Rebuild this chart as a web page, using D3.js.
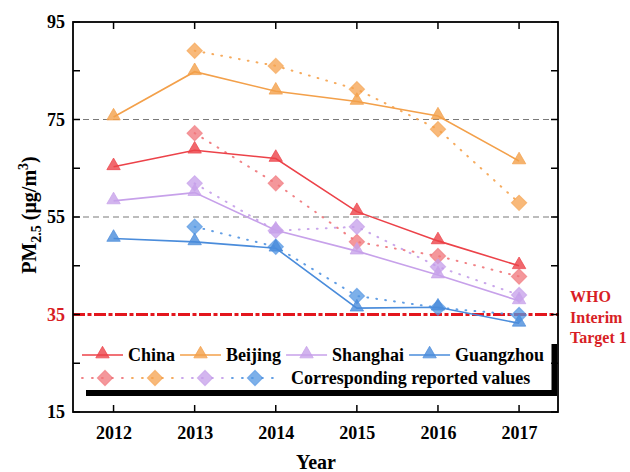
<!DOCTYPE html>
<html>
<head>
<meta charset="utf-8">
<script src="https://cdn.jsdelivr.net/npm/d3@7"></script>
<style>
  html, body { margin: 0; padding: 0; background: #fff; }
  svg { display: block; }
</style>
</head>
<body>
<svg id="chart" width="630" height="472"></svg>
<script>
// Annual mean PM2.5 (µg/m³): estimated values vs. reported values
const years = [2012, 2013, 2014, 2015, 2016, 2017];
const reportedYears = [2013, 2014, 2015, 2016, 2017];

const chinaEst     = [65.3, 68.7, 67.0, 56.1, 50.1, 45.0];
const beijingEst   = [75.5, 84.8, 80.8, 78.7, 75.7, 66.5];
const shanghaiEst  = [58.3, 60.0, 52.3, 48.0, 43.1, 37.8];
const guangzhouEst = [50.6, 49.9, 48.6, 36.3, 36.5, 33.2];

const chinaRep     = [72.2, 61.9, 49.9, 47.0, 42.8];
const beijingRep   = [89.1, 86.0, 81.2, 73.0, 57.9];
const shanghaiRep  = [61.9, 52.2, 53.0, 44.8, 39.0];
const guangzhouRep = [53.0, 48.9, 38.8, 36.4, 34.9];

const yTicks = [15, 35, 55, 75, 95];
const yMinorTicks = [25, 45, 65, 85];
const guideLevels = [55, 75];
const whoTarget = 35;
const whoLabel = ["WHO", "Interim", "Target 1"];
const reportedLabel = "Corresponding reported values";

const seriesNames = ["China", "Beijing", "Shanghai", "Guangzhou"];
const lineColors = ["#ec4249", "#f3a04a", "#c7a1ea", "#4a8cdb"];
const repColors  = ["#f07479", "#f5a24d", "#c49de9", "#5295e2"];
const estimated = [chinaEst, beijingEst, shanghaiEst, guangzhouEst];
const reported  = [chinaRep, beijingRep, shanghaiRep, guangzhouRep];

const FONT = "Liberation Serif";
const svg = d3.select("#chart").attr("font-family", FONT);
const pLeft = 73, pRight = 558, pTop = 22, pBottom = 412;

const x = d3.scaleLinear().domain([2011.5, 2017.48]).range([pLeft, pRight]);
const y = d3.scaleLinear().domain([15, 95]).range([pBottom, pTop]);

// Horizontal guide lines
svg.selectAll("line.guide").data(guideLevels).join("line")
  .attr("class", "guide")
  .attr("x1", pLeft).attr("x2", pRight)
  .attr("y1", d => y(d)).attr("y2", d => y(d))
  .attr("stroke", "#7a7a7a").attr("stroke-width", 1.2)
  .attr("stroke-dasharray", "6,4");

// WHO interim target line
svg.append("line")
  .attr("x1", pLeft).attr("x2", pRight + 1)
  .attr("y1", y(whoTarget)).attr("y2", y(whoTarget))
  .attr("stroke", "#e3161d").attr("stroke-width", 3)
  .attr("stroke-dasharray", "12,2.5,4,2.5");

const tri = d3.symbol().type(d3.symbolTriangle).size(78);
const dia = d3.symbol().type(d3.symbolSquare).size(120);

const line = d3.line().x(d => x(d[0])).y(d => y(d[1]));

// Reported values: dotted lines + diamonds
reported.forEach((vals, i) => {
  const pts = reportedYears.map((yr, j) => [yr, vals[j]]);
  svg.append("path").datum(pts)
    .attr("d", line).attr("fill", "none")
    .attr("stroke", repColors[i]).attr("stroke-width", 2)
    .attr("stroke-linecap", "round")
    .attr("stroke-dasharray", "0.8,8.2").attr("opacity", 0.9);
});
reported.forEach((vals, i) => {
  const pts = reportedYears.map((yr, j) => [yr, vals[j]]);
  svg.append("g").selectAll("path").data(pts).join("path")
    .attr("d", dia)
    .attr("transform", d => `translate(${x(d[0])},${y(d[1])}) rotate(45)`)
    .attr("fill", repColors[i]).attr("fill-opacity", 0.75)
    .attr("stroke", repColors[i]).attr("stroke-opacity", 0.6).attr("stroke-width", 1);
});

// Estimated values: solid lines + triangles
estimated.forEach((vals, i) => {
  const pts = years.map((yr, j) => [yr, vals[j]]);
  svg.append("path").datum(pts)
    .attr("d", line).attr("fill", "none")
    .attr("stroke", lineColors[i]).attr("stroke-width", 1.6);
  svg.append("g").selectAll("path").data(pts).join("path")
    .attr("d", tri)
    .attr("transform", d => `translate(${x(d[0])},${y(d[1]) - 1})`)
    .attr("fill", lineColors[i]).attr("fill-opacity", 0.8)
    .attr("stroke", lineColors[i]).attr("stroke-opacity", 0.7).attr("stroke-width", 1);
});

// Legend with drop shadow
const lg = svg.append("g");
lg.append("rect").attr("x", 86).attr("y", 344).attr("width", 471).attr("height", 52).attr("fill", "#000");
lg.append("rect").attr("x", 80).attr("y", 338).attr("width", 472).attr("height", 52).attr("fill", "#fff");
lg.append("line").attr("x1", 552).attr("x2", 552).attr("y1", 344).attr("y2", 390)
  .attr("stroke", "#000").attr("stroke-width", 1);

let cx = 82;
const row1 = 355, row2 = 378;
seriesNames.forEach((name, i) => {
  lg.append("line").attr("x1", cx).attr("x2", cx + 41).attr("y1", row1).attr("y2", row1)
    .attr("stroke", lineColors[i]).attr("stroke-width", 1.6);
  lg.append("path").attr("d", tri)
    .attr("transform", `translate(${cx + 20.5},${row1 - 1})`)
    .attr("fill", lineColors[i]).attr("fill-opacity", 0.8)
    .attr("stroke", lineColors[i]).attr("stroke-opacity", 0.7);
  const t = lg.append("text").attr("x", cx + 46).attr("y", row1 + 6)
    .attr("font-family", FONT)
    .attr("font-size", 18).attr("font-weight", "bold").attr("fill", "#000").text(name);
  cx += 46 + t.node().getComputedTextLength() + 5;
});
reported.forEach((vals, i) => {
  const c = 105 + i * 50;
  lg.append("line").attr("x1", c - 23).attr("x2", c + 19).attr("y1", row2).attr("y2", row2)
    .attr("stroke", repColors[i]).attr("stroke-width", 2).attr("stroke-linecap", "round")
    .attr("stroke-dasharray", "0.8,9.2").attr("opacity", 0.9);
  lg.append("path").attr("d", dia)
    .attr("transform", `translate(${c},${row2}) rotate(45)`)
    .attr("fill", repColors[i]).attr("fill-opacity", 0.75)
    .attr("stroke", repColors[i]).attr("stroke-opacity", 0.6);
});
lg.append("text").attr("x", 291).attr("y", row2 + 6).attr("font-family", FONT)
  .attr("font-size", 18).attr("font-weight", "bold").text(reportedLabel);

// Axes frame with inward ticks on all sides
svg.append("rect").attr("x", pLeft).attr("y", pTop)
  .attr("width", pRight - pLeft).attr("height", pBottom - pTop)
  .attr("fill", "none").attr("stroke", "#000").attr("stroke-width", 1.8);

const tickLen = 7;
const yAll = yTicks.concat(yMinorTicks);
const frame = svg.append("g").attr("stroke", "#000").attr("stroke-width", 1.5);
years.forEach(yr => {
  frame.append("line").attr("x1", x(yr)).attr("x2", x(yr)).attr("y1", pBottom).attr("y2", pBottom - tickLen);
  frame.append("line").attr("x1", x(yr)).attr("x2", x(yr)).attr("y1", pTop).attr("y2", pTop + tickLen);
});
yAll.forEach(v => {
  frame.append("line").attr("x1", pLeft).attr("x2", pLeft + tickLen).attr("y1", y(v)).attr("y2", y(v));
  frame.append("line").attr("x1", pRight).attr("x2", pRight - tickLen).attr("y1", y(v)).attr("y2", y(v));
});

// Tick labels
const xAxis = d3.axisBottom(x).tickValues(years).tickFormat(d3.format("d")).tickSize(0).tickPadding(14);
const gx = svg.append("g").attr("transform", `translate(0,${pBottom})`).call(xAxis);
gx.attr("font-family", FONT);
gx.select(".domain").remove();
gx.selectAll("text").attr("font-family", FONT).attr("font-size", 18).attr("font-weight", "bold").attr("fill", "#000");

const yAxis = d3.axisLeft(y).tickValues(yTicks).tickSize(0).tickPadding(8);
const gy = svg.append("g").attr("transform", `translate(${pLeft},0)`).call(yAxis);
gy.attr("font-family", FONT);
gy.select(".domain").remove();
gy.selectAll("text").attr("font-family", FONT).attr("font-size", 18).attr("font-weight", "bold")
  .attr("fill", d => d === whoTarget ? "#d81e25" : "#000");

// Axis titles
svg.append("text").attr("x", 316).attr("y", 469).attr("text-anchor", "middle")
  .attr("font-family", FONT).attr("font-size", 20).attr("font-weight", "bold").text("Year");

const yt = svg.append("text").attr("transform", "translate(36,215) rotate(-90)")
  .attr("font-family", FONT)
  .attr("text-anchor", "middle").attr("font-size", 20).attr("font-weight", "bold");
yt.append("tspan").text("PM");
yt.append("tspan").attr("font-size", 14).attr("dy", 5).text("2.5");
yt.append("tspan").attr("dy", -5).text(" (μg/m");
yt.append("tspan").attr("font-size", 14).attr("dy", -8).text("3");
yt.append("tspan").attr("dy", 8).text(")");

// WHO target annotation
svg.append("g").selectAll("text").data(whoLabel).join("text")
  .attr("x", 570).attr("y", (d, i) => 302 + i * 20.5)
  .attr("font-family", FONT)
  .attr("font-size", 16).attr("font-weight", "bold").attr("fill", "#d81e25")
  .text(d => d);
</script>
</body>
</html>
